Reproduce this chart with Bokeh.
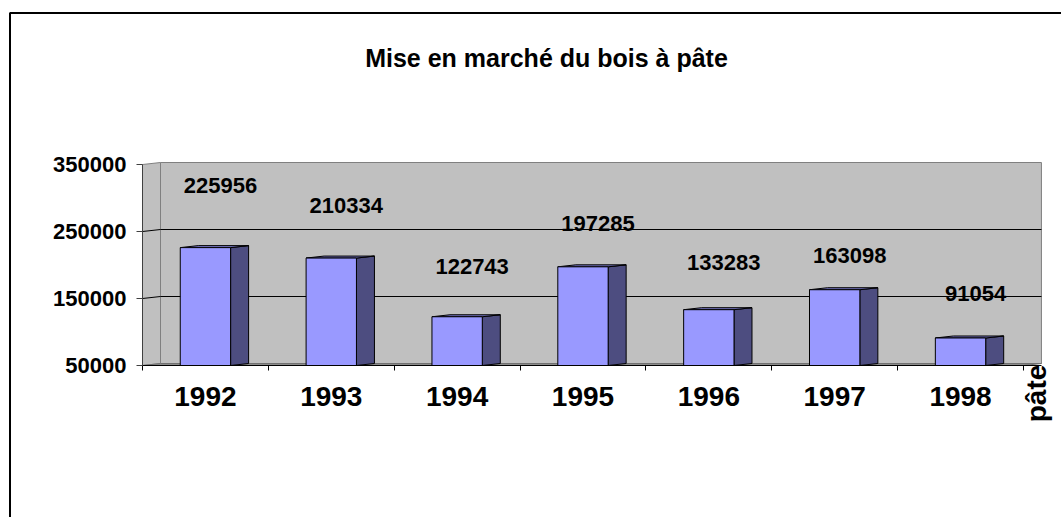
import math
from bokeh.plotting import figure
from bokeh.models import Range1d, FixedTicker, NumeralTickFormatter, ColumnDataSource
from bokeh.core.properties import value
from bokeh.embed import file_html
from bokeh.resources import INLINE

# ---- data ----
title_text = "Mise en marché du bois à pâte"
series_name = "pâte"
years = ["1992", "1993", "1994", "1995", "1996", "1997", "1998"]
volumes = [225956, 210334, 122743, 197285, 133283, 163098, 91054]
# height of each data label above its bar (data units)
label_lift = [92700, 78500, 75000, 64700, 70400, 51100, 66400]
y_ticks = [50000, 150000, 250000, 350000]

# ---- layout (pixels) ----
W, H = 1061, 517
PX_LEFT = 142          # pixel x of the category axis start
PX_CAT = 125.85        # pixels per category
PY_BASE = 365          # pixel y of the value axis minimum
PY_SPAN = 201          # pixels between min and max of the value axis

FONT = "Liberation Sans"
y_min, y_max = y_ticks[0], y_ticks[-1]
u = (y_max - y_min) / PY_SPAN          # data units per pixel (y)
n = len(years)
xs = list(range(n))
x0, x1 = -0.5, n - 0.5


def px2x(px):
    return x0 + (px - PX_LEFT) / PX_CAT


def py2y(py):
    return y_min + (PY_BASE - py) * u


half_w = 0.2          # half width of a bar front face (category units)
dxu = 18 / PX_CAT     # depth offset along x
dyv = 2 * u           # depth offset along y

p = figure(width=W, height=H,
           x_range=Range1d(px2x(0), px2x(W)), y_range=Range1d(py2y(H), py2y(0)),
           output_backend="svg", toolbar_location=None)
p.min_border = 0
p.min_border_left = 0
p.min_border_right = 0
p.min_border_top = 0
p.min_border_bottom = 0
p.background_fill_color = "white"
p.border_fill_color = "white"
p.outline_line_color = None
p.xgrid.visible = False
p.ygrid.visible = False

# outer chart border (runs off the right and bottom edges)
p.line([px2x(9.5), px2x(9.5), px2x(W + 20)], [py2y(H + 20), py2y(12.5), py2y(12.5)],
       line_color="black", line_width=2)

# walls: side wall + back wall
p.patch([x0, x0 + dxu, x1 + dxu, x1 + dxu, x0 + dxu, x0],
        [y_min, y_min + dyv, y_min + dyv, y_max + dyv, y_max + dyv, y_max],
        fill_color="#C0C0C0", line_color="#808080", line_width=1)
p.segment(x0=[x0 + dxu], y0=[y_min + dyv], x1=[x0 + dxu], y1=[y_max + dyv],
          line_color="#808080", line_width=1)
# floor strip
p.patch([x0, x1, x1 + dxu, x0 + dxu], [y_min, y_min, y_min + dyv, y_min + dyv],
        fill_color="#8C8C8C", line_color="#707070", line_width=1)

# back-wall gridlines (slanted from the axis, then flat)
for v in y_ticks[1:-1]:
    p.line([x0, x0 + dxu, x1 + dxu], [v, v + dyv, v + dyv], line_color="black", line_width=1)

# bars: side, top and front faces
src = ColumnDataSource(dict(
    x=xs, v=volumes,
    left=[c - half_w for c in xs], right=[c + half_w for c in xs],
    bottom=[y_min] * n,
))
side_xs = [[c + half_w, c + half_w + dxu, c + half_w + dxu, c + half_w] for c in xs]
side_ys = [[y_min, y_min + dyv, v + dyv, v] for v in volumes]
top_xs = [[c - half_w, c + half_w, c + half_w + dxu, c - half_w + dxu] for c in xs]
top_ys = [[v, v, v + dyv, v + dyv] for v in volumes]
p.patches(side_xs, side_ys, fill_color="#4D4D80", line_color="black", line_width=1)
p.patches(top_xs, top_ys, fill_color="#7373BF", line_color="black", line_width=1)
p.quad(left="left", right="right", bottom="bottom", top="v", source=src,
       fill_color="#9999FF", line_color="black", line_width=1)

# data labels
lab = ColumnDataSource(dict(x=xs, y=[v + l for v, l in zip(volumes, label_lift)],
                            t=[str(v) for v in volumes]))
p.text(x="x", y="y", text="t", source=lab, x_offset=15,
       text_font=value(FONT), text_font_style="bold", text_font_size="22px",
       text_align="center", text_baseline="middle", text_color="black")

# title
p.text(x=[px2x(546)], y=[py2y(57)], text=[title_text],
       text_font=value(FONT), text_font_style="bold", text_font_size="25px",
       text_align="center", text_baseline="middle", text_color="black")

# truncated legend entry, vertical
p.text(x=[px2x(1036)], y=[py2y(393)], text=[series_name], angle=math.pi / 2,
       text_font=value(FONT), text_font_style="bold", text_font_size="28px",
       text_align="center", text_baseline="middle", text_color="black")

# y axis (drawn at the front-left edge of the walls)
p.yaxis.fixed_location = x0
p.yaxis.bounds = (y_min, y_max)
p.yaxis.ticker = FixedTicker(ticks=y_ticks)
p.yaxis.formatter = NumeralTickFormatter(format="0")
p.yaxis.major_label_text_font = FONT
p.yaxis.major_label_text_font_style = "bold"
p.yaxis.major_label_text_font_size = "22px"
p.yaxis.major_label_text_color = "black"
p.yaxis.major_label_standoff = 10
p.yaxis.major_tick_out = 6
p.yaxis.major_tick_in = 0
p.yaxis.major_tick_line_color = "#404040"
p.yaxis.minor_tick_line_color = None
p.yaxis.axis_line_color = "#404040"

# x axis (category axis on the floor's front edge)
p.xaxis.fixed_location = y_min
p.xaxis.bounds = (x0, x1 + dxu)
p.xaxis.ticker = FixedTicker(ticks=xs, minor_ticks=[c - 0.5 for c in xs] + [x1])
p.xaxis.major_label_overrides = {c: y for c, y in zip(xs, years)}
p.xaxis.major_tick_line_color = None
p.xaxis.major_tick_out = 0
p.xaxis.major_tick_in = 0
p.xaxis.minor_tick_out = 5
p.xaxis.minor_tick_in = 0
p.xaxis.minor_tick_line_color = "black"
p.xaxis.axis_line_color = "black"
p.xaxis.major_label_text_font = FONT
p.xaxis.major_label_text_font_style = "bold"
p.xaxis.major_label_text_font_size = "28px"
p.xaxis.major_label_text_color = "black"
p.xaxis.major_label_standoff = 16

open("out.html", "w").write(file_html(p, INLINE))
